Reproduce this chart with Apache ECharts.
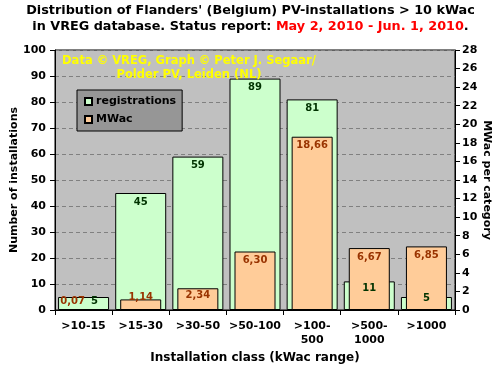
<!DOCTYPE html>
<html><head><meta charset="utf-8">
<script src="https://cdn.jsdelivr.net/npm/echarts@6/dist/echarts.min.js"></script>
<style>html,body{margin:0;padding:0;background:#fff}#c{width:501px;height:370px}</style>
</head><body><div id="c"></div>
<script>
const categories = ['>10-15', '>15-30', '>30-50', '>50-100', '>100-\n500', '>500-\n1000', '>1000'];
const registrations = [5, 45, 59, 89, 81, 11, 5];
const mwac = [0.07, 1.14, 2.34, 6.30, 18.66, 6.67, 6.85];
const leftTicks = { min: 0, max: 100, interval: 10 };
const rightTicks = { min: 0, max: 28, interval: 2 };

const F = 'DejaVu Sans';
const chart = echarts.init(document.getElementById('c'), null, { renderer: 'canvas' });

const greenOffsets = { 0: [11, -5], 5: [0, -2], 6: [0, -8] };
const orangeOffsets = { 0: [-11, -17], 1: [0, -11], 2: [0, -2] };

const regData = registrations.map((v, i) => {
  const d = { value: v };
  if (greenOffsets[i]) d.label = { offset: greenOffsets[i] };
  return d;
});
const mwData = mwac.map((v, i) => {
  const d = { value: v };
  if (orangeOffsets[i]) d.label = { offset: orangeOffsets[i] };
  return d;
});

chart.setOption({
  animation: false,
  backgroundColor: '#ffffff',
  textStyle: { fontFamily: F },
  title: {
    left: 'center', top: -2,
    text: '{a|Distribution of Flanders\' (Belgium) PV-installations > 10 kWac}\n{a|in VREG database. Status report: }{r|May 2, 2010 - Jun. 1, 2010}{a|.}',
    textStyle: {
      fontFamily: F, fontWeight: 'bold', fontSize: 12.8, lineHeight: 16,
      rich: {
        a: { fontFamily: F, fontWeight: 'bold', fontSize: 12.8, color: '#000', lineHeight: 16 },
        r: { fontFamily: F, fontWeight: 'bold', fontSize: 12.8, color: '#ff0000', lineHeight: 16 }
      }
    }
  },
  grid: {
    left: 55, right: 46, top: 50, bottom: 60, outerBoundsMode: 'none', containLabel: false,
    show: true, backgroundColor: '#c0c0c0', borderColor: '#000', borderWidth: 1
  },
  legend: {
    left: 77, top: 90, width: 107, height: 41,
    orient: 'vertical', backgroundColor: '#969696', borderColor: '#000', borderWidth: 1,
    padding: [6, 6, 6, 7], itemGap: 7, itemWidth: 7, itemHeight: 7, icon: 'rect',
    textStyle: { fontFamily: F, fontWeight: 'bold', fontSize: 11, color: '#000', padding: [0, 0, 0, -1] },
    data: ['registrations', 'MWac']
  },
  xAxis: [{
    type: 'category', data: categories, position: 'bottom',
    axisLine: { lineStyle: { color: '#000' } },
    axisTick: { show: true, length: 5, lineStyle: { color: '#000' } },
    axisLabel: { interval: 0, fontFamily: F, fontWeight: 'bold', fontSize: 11, color: '#000', lineHeight: 14, margin: 9 },
    name: 'Installation class (kWac range)', nameLocation: 'middle', nameGap: 42, nameMoveOverlap: false,
    nameTextStyle: { fontFamily: F, fontWeight: 'bold', fontSize: 12, color: '#000' }
  }, {
    type: 'category', data: categories, position: 'bottom', show: false
  }],
  yAxis: [{
    type: 'value', min: leftTicks.min, max: leftTicks.max, interval: leftTicks.interval, position: 'left',
    axisLine: { show: true, lineStyle: { color: '#000' } },
    axisTick: { show: true, length: 5, lineStyle: { color: '#000' } },
    axisLabel: { fontFamily: F, fontWeight: 'bold', fontSize: 11, color: '#000', margin: 9 },
    splitLine: { show: true, lineStyle: { color: '#808080', type: [4, 3] } },
    name: 'Number of installations', nameLocation: 'middle', nameGap: 35, nameRotate: 90, nameMoveOverlap: false,
    nameTextStyle: { fontFamily: F, fontWeight: 'bold', fontSize: 11, color: '#000' }
  }, {
    type: 'value', min: rightTicks.min, max: rightTicks.max, interval: rightTicks.interval, position: 'right',
    axisLine: { show: true, lineStyle: { color: '#000' } },
    axisTick: { show: true, length: 5, lineStyle: { color: '#000' } },
    axisLabel: { fontFamily: F, fontWeight: 'bold', fontSize: 11, color: '#000', margin: 7 },
    splitLine: { show: false },
    name: 'MWac per category', nameLocation: 'middle', nameGap: 26, nameRotate: -90, nameMoveOverlap: false,
    nameTextStyle: { fontFamily: F, fontWeight: 'bold', fontSize: 11, color: '#000' }
  }],
  series: [{
    name: 'registrations', type: 'bar', xAxisIndex: 0, yAxisIndex: 0, barWidth: 51,
    data: regData,
    itemStyle: { color: '#ccffcc', borderColor: '#000', borderWidth: 1 },
    label: { show: true, position: 'insideTop', distance: 4, fontFamily: F, fontWeight: 'bold', fontSize: 10, color: '#003300' },
    z: 2
  }, {
    name: 'MWac', type: 'bar', xAxisIndex: 1, yAxisIndex: 1, barWidth: 41,
    data: mwData,
    itemStyle: { color: '#ffcc99', borderColor: '#000', borderWidth: 1 },
    label: {
      show: true, position: 'insideTop', distance: 4, fontFamily: F, fontWeight: 'bold', fontSize: 10, color: '#993300',
      formatter: p => p.value.toFixed(2).replace('.', ',')
    },
    z: 2
  }],
  graphic: [{
    type: 'text', x: 189, y: 54, z: 100,
    style: {
      text: 'Data © VREG, Graph © Peter J. Segaar/\nPolder PV, Leiden (NL)',
      fontFamily: F, fontWeight: 'bold', fontSize: 11.5, fill: '#ffff00', align: 'center', verticalAlign: 'top', lineHeight: 14
    }
  }]
});
</script></body></html>
